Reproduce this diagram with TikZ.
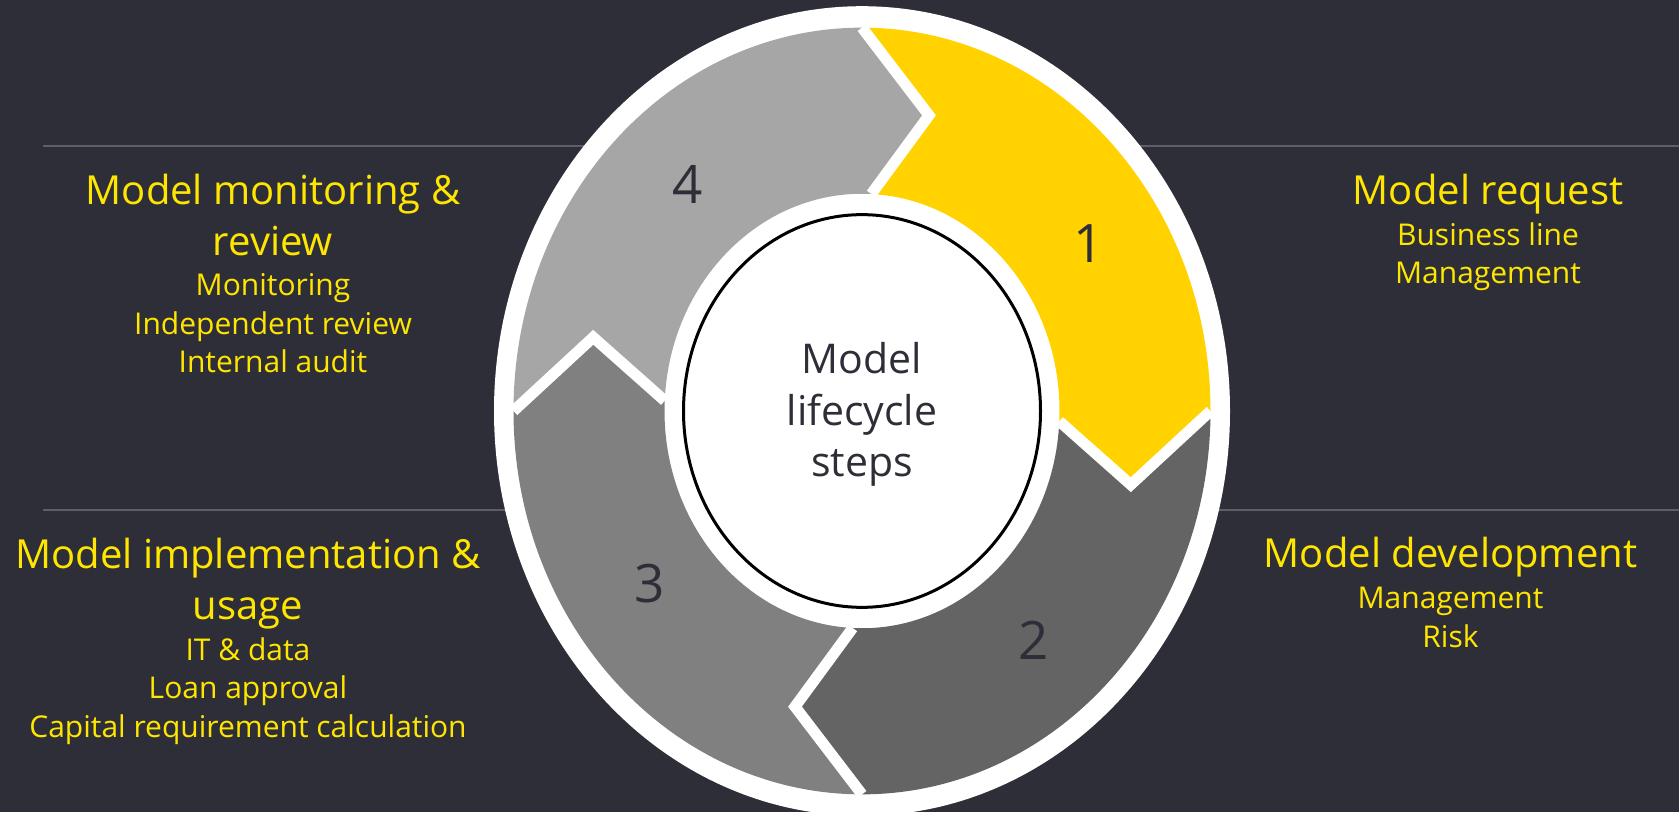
\documentclass[tikz,border=0pt]{standalone}
\usepackage{fontspec}
\setmainfont{Open Sans}
\usetikzlibrary{positioning}
\definecolor{slatebg}{HTML}{2E2E38}
\definecolor{labelyellow}{HTML}{FFE600}
\definecolor{stepyellow}{HTML}{FFD200}
\definecolor{stepdark}{HTML}{646464}
\definecolor{stepmid}{HTML}{808080}
\definecolor{steplight}{HTML}{A6A6A6}
\definecolor{rulegrey}{HTML}{5E5E66}
\newcommand{\drawstep}[2]{% {start angle}{colour}
  \fill[#2] (#1:348.5) arc[start angle=#1, end angle=#1-90, radius=348.5]
    -- ({#1-104}:277) -- ({#1-92.7}:197.5)
    arc[start angle=#1-92.7, end angle=#1-2.7, radius=197.5]
    -- ({#1-14}:277) -- cycle;
}

\begin{document}
\begin{tikzpicture}[x=1pt,y=1pt,
    steptitle/.style={text=labelyellow,align=center,anchor=base,inner sep=0pt,
      font=\fontsize{40}{51}\selectfont},
    stepitems/.style={text=labelyellow,align=center,anchor=base,inner sep=0pt,
      font=\fontsize{30}{38.5}\selectfont},
    stepnum/.style={text=slatebg,inner sep=0pt,font=\fontsize{53}{60}\selectfont},
    rule/.style={rulegrey,line width=2pt}]
  \useasboundingbox (0,0) rectangle (1679,812);
  \clip (0,0) rectangle (1679,812);
  \fill[slatebg] (0,0) rectangle (1679,812);
  % Separator rules
  \draw[rule] (43,666) -- (1679,666);
  \draw[rule] (43,302) -- (1679,302);
  % Cycle
  \begin{scope}[shift={(862,401)},yscale=1.1]
    \fill[white] (0,0) circle[radius=368];
    \drawstep{90}{stepyellow}
    \drawstep{0}{stepdark}
    \drawstep{-90}{stepmid}
    \drawstep{180}{steplight}
    % White gaps between the arrows
    \foreach \a in {90,0,-90,180}
      \draw[white,line width=11pt,line cap=square]
        (\a:348.5) -- ({\a-14}:277) -- ({\a-2.7}:197.5);
    \draw[black,line width=3pt,fill=white] (0,0) circle[radius=178.5];
    \node[stepnum] (num1) at (33.8:273) {1};
    \node[stepnum] (num2) at (-50.4:270) {2};
    \node[stepnum] (num3) at (-143.5:264) {3};
    \node[stepnum] (num4) at (130.3:270) {4};
  \end{scope}
  % base sits on the last line of a multi-line node
  \node[text=slatebg,align=center,anchor=base,inner sep=0pt,
    font=\fontsize{41}{51.5}\selectfont] (core) at (862,335)
    {Model\\lifecycle\\steps};
  % Step 1
  \node[steptitle] (reqtitle) at (1488,607) {Model request};
  \node[stepitems] (reqitems) at ([yshift=-79pt]reqtitle.base)
    {Business line\\Management};
  % Step 2
  \node[steptitle] (devtitle) at (1450.5,244) {Model development};
  \node[stepitems] (devitems) at ([yshift=-79pt]devtitle.base)
    {Management\\Risk};
  % Step 3
  \node[steptitle] (impltitle) at (248,193) {Model implementation \&\\usage};
  \node[stepitems] (implitems) at ([yshift=-118pt]impltitle.base)
    {IT \& data\\Loan approval\\Capital requirement calculation};
  % Step 4
  \node[steptitle] (montitle) at (273,556) {Model monitoring \&\\review};
  \node[stepitems] (monitems) at ([yshift=-117pt]montitle.base)
    {Monitoring\\Independent review\\Internal audit};
\end{tikzpicture}
\end{document}
